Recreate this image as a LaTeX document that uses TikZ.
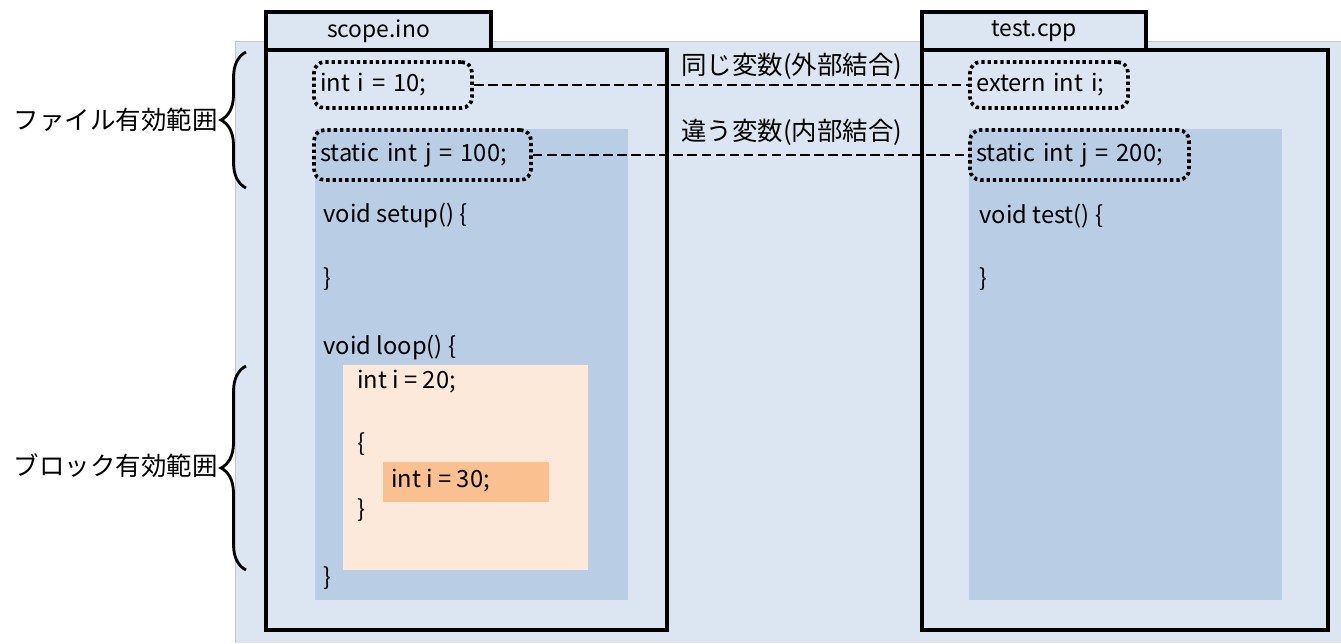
\documentclass[tikz,border=0pt]{standalone}
\usepackage{fontspec}
\setmainfont{Noto Sans CJK JP}
\usetikzlibrary{positioning,decorations.pathreplacing}
\definecolor{sheet}{HTML}{DCE6F2}
\definecolor{scopefill}{HTML}{B9CDE5}
\definecolor{blockfill}{HTML}{FDE9D9}
\definecolor{innerfill}{HTML}{FAC090}
\tikzset{file tab/.style={draw=black, line width=2.2pt, fill=sheet, rectangle, inner sep=0pt, font=\fontsize{13}{15}\selectfont}}
\tikzset{file frame/.style={draw=black, line width=2.2pt, fill=sheet, rectangle}}
\tikzset{region/.style={rectangle, inner sep=0pt}}
\tikzset{code/.style={anchor=west, inner sep=0pt, font=\fontsize{13.5}{16}\selectfont}}
\tikzset{var box/.style={draw=black, line width=2.1pt, dash pattern=on 1.9pt off 1.7pt, rounded corners=6pt, rectangle, inner xsep=0.12cm, inner ysep=0pt, align=left, font=\fontsize{13.5}{16}\selectfont}}
\tikzset{linkage/.style={draw=black, line width=1.6pt, dash pattern=on 5.5pt off 2.5pt}}
\tikzset{note/.style={inner sep=0pt, font=\fontsize{14.5}{17}\selectfont}}

\begin{document}
\begin{tikzpicture}[x=0.02cm, y=-0.02cm]
\useasboundingbox (0,0) rectangle (1341,643);
\fill[sheet] (235,41) rectangle (1341,643);
\draw[gray!45] (235,643) -- (235,41) -- (1341,41);

% scope.ino
\node[file tab, minimum width=4.5cm, minimum height=0.76cm] (inotab) at (378.5,31) {scope.ino};
\node[file frame, minimum width=8.02cm, minimum height=11.6cm] (ino) at (466.5,340) {};
\node[region, fill=scopefill, minimum width=6.26cm, minimum height=9.42cm] (inoscope) at (471.5,364.5) {};
\node[region, fill=blockfill, minimum width=4.9cm, minimum height=4.1cm] (loopblock) at (465.5,467.5) {};
\node[region, fill=innerfill, minimum width=3.32cm, minimum height=0.8cm] (innerblock) at (466,482) {};

% test.cpp
\node[file tab, minimum width=4.48cm, minimum height=0.76cm] (cpptab) at (1034,31) {test.cpp};
\node[file frame, minimum width=8.12cm, minimum height=11.6cm] (cpp) at (1125,340) {};
\node[region, fill=scopefill, minimum width=6.26cm, minimum height=9.42cm] (cppscope) at (1125.5,364.5) {};

% variables
\node[var box, text width=2.92cm, minimum height=0.92cm] (ten) at (393,85) {int i = 10;};
\node[var box, text width=4.1cm, minimum height=1.0cm] (hundred) at (422.5,155) {static int j = 100;};
\node[var box, text width=2.92cm, minimum height=0.92cm] (ext) at (1049,85) {extern int i;};
\node[var box, text width=4.14cm, minimum height=1.0cm] (twohundred) at (1079.5,155) {static int j = 200;};

\draw[linkage] (ten) -- (ext);
\draw[linkage] (hundred) -- (twohundred);
\node[note, anchor=west] (same) at (681,66) {同じ変数(外部結合)};
\node[note, anchor=west] (diff) at (681,132) {違う変数(内部結合)};

% code
\node[code] (setup) at (323,216) {void setup() \{};
\node[code] (setupend) at (323,279) {\}};
\node[code] (loop) at (323,348) {void loop() \{};
\node[code] (twenty) at (357,382) {int i = 20;};
\node[code] (open) at (357,444) {\{};
\node[code] (thirty) at (391,481) {int i = 30;};
\node[code] (close) at (357,510) {\}};
\node[code] (loopend) at (323,578) {\}};
\node[code] (test) at (979,216) {void test() \{};
\node[code] (testend) at (979,279) {\}};

% ranges
\draw[line width=1.6pt, decorate, decoration={brace, amplitude=0.5cm}] (246,188) -- (246,52);
\draw[line width=1.6pt, decorate, decoration={brace, amplitude=0.5cm}] (246,570) -- (246,366);
\node[note, anchor=east] (filerange) at (218,120) {ファイル有効範囲};
\node[note, anchor=east] (blockrange) at (218,466) {ブロック有効範囲};
\end{tikzpicture}
\end{document}
